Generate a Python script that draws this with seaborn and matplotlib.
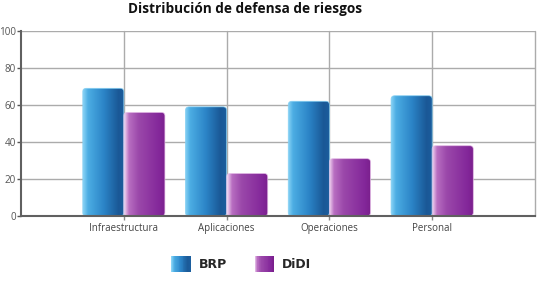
import numpy as np
import pandas as pd
import seaborn as sns
import matplotlib.pyplot as plt
from matplotlib.patches import FancyBboxPatch, Rectangle
from matplotlib.colors import LinearSegmentedColormap
from matplotlib.legend_handler import HandlerBase

categories = ['Infraestructura', 'Aplicaciones', 'Operaciones', 'Personal']
brp = [69, 59, 62, 65]
didi = [56, 23, 31, 38]
series = ['BRP', 'DiDI']
title = 'Distribución de defensa de riesgos'

# gradient stops, left -> right
grad_stops = {
    'BRP': [(0, '#8ad4f6'), (0.12, '#4cade3'), (0.5, '#2b84c7'),
            (0.85, '#1a5896'), (1, '#1c5e9e')],
    'DiDI': [(0, '#f4dcf4'), (0.12, '#b86ec1'), (0.35, '#9b48aa'),
             (0.85, '#83279a'), (1, '#7a1f8c')],
}
edge_colors = {'BRP': '#7fcdf2', 'DiDI': '#e6bfe8'}
cmaps = {k: LinearSegmentedColormap.from_list(k, v) for k, v in grad_stops.items()}

df = pd.DataFrame({
    'categoria': categories * 2,
    'valor': brp + didi,
    'serie': ['BRP'] * 4 + ['DiDI'] * 4,
})

sns.set_style('white')
plt.rcParams['font.family'] = ['Open Sans', 'DejaVu Sans']

fig = plt.figure(figsize=(5.39, 2.88), dpi=100)
ax = fig.add_axes([21 / 539, 72 / 288, 514 / 539, 185 / 288])

sns.barplot(data=df, x='categoria', y='valor', hue='serie', order=categories,
            hue_order=series, width=0.8, ax=ax, legend=False)

ax.set_xlim(-1, 4)
ax.set_ylim(0, 100)
ax.set_yticks([0, 20, 40, 60, 80, 100])
ax.set_xticks(range(len(categories)))

# grid
for y in [20, 40, 60, 80, 100]:
    ax.axhline(y, color='#ababab', lw=1, zorder=0)
for x in range(len(categories) + 1):
    ax.axvline(x, color='#ababab', lw=1, zorder=0, clip_on=False)

# gradient bars
grad = np.linspace(0, 1, 256).reshape(1, -1)
for i, container in enumerate(ax.containers):
    name = series[i]
    for patch in container.patches:
        x0, y0 = patch.get_x(), patch.get_y()
        w, h = patch.get_width(), patch.get_height()
        patch.set_visible(False)
        clip = FancyBboxPatch((x0, y0), w, h,
                              boxstyle='round,pad=0,rounding_size=0.035',
                              mutation_aspect=55, transform=ax.transData,
                              facecolor='none', edgecolor='none')
        ax.add_patch(clip)
        im = ax.imshow(grad, cmap=cmaps[name], aspect='auto',
                       extent=(x0, x0 + w, y0, y0 + h), zorder=2)
        im.set_clip_path(clip)
        edge = FancyBboxPatch((x0, y0), w, h,
                              boxstyle='round,pad=0,rounding_size=0.035',
                              mutation_aspect=55, facecolor='none',
                              edgecolor=edge_colors[name], lw=0.6,
                              alpha=0.8, zorder=3)
        ax.add_patch(edge)

ax.set_xlim(-1, 4)
ax.set_ylim(0, 100)

for s in ['top', 'right']:
    ax.spines[s].set_visible(False)
for s in ['left', 'bottom']:
    ax.spines[s].set_color('#606060')
    ax.spines[s].set_linewidth(1.5)
    ax.spines[s].set_zorder(4)

ax.set_xlabel('')
ax.set_ylabel('')
ax.set_xticklabels(categories, fontsize=7, color='#444444')
ax.tick_params(axis='y', labelsize=7.1, colors='#555555', length=3, pad=0.5,
               left=True, width=1)
ax.tick_params(axis='x', length=3, pad=2, bottom=True, colors='#888888',
               labelcolor='#444444', width=1)

fig.text(245 / 539, 1 - 9 / 288, title, ha='center', va='center',
         fontsize=9.8, fontweight='bold', color='#111111')


class GradientHandler(HandlerBase):
    def create_artists(self, legend, orig_handle, xdescent, ydescent,
                       width, height, fontsize, trans):
        cmap = cmaps[orig_handle.get_label()]
        n = 24
        w_box = 14.0
        h_box = 12.0
        x_start = xdescent + (width - w_box) / 2
        y_start = -ydescent + (height - h_box) / 2
        arts = []
        for k in range(n):
            r = Rectangle((x_start + k * w_box / n, y_start), w_box / n + 0.3, h_box,
                          facecolor=cmap(k / (n - 1)), edgecolor='none',
                          transform=trans)
            arts.append(r)
        return arts


handles = [Rectangle((0, 0), 1, 1, label=s) for s in series]
fig.legend(handles=handles, labels=series, loc='center',
           bbox_to_anchor=(241 / 539, 1 - 265 / 288), ncol=2, frameon=False,
           handler_map={Rectangle: GradientHandler()},
           prop={'size': 9, 'weight': 'bold', 'family': 'DejaVu Sans'},
           handlelength=1.6, handletextpad=0.6, columnspacing=2.2)

fig.savefig('out.png', dpi=100)
